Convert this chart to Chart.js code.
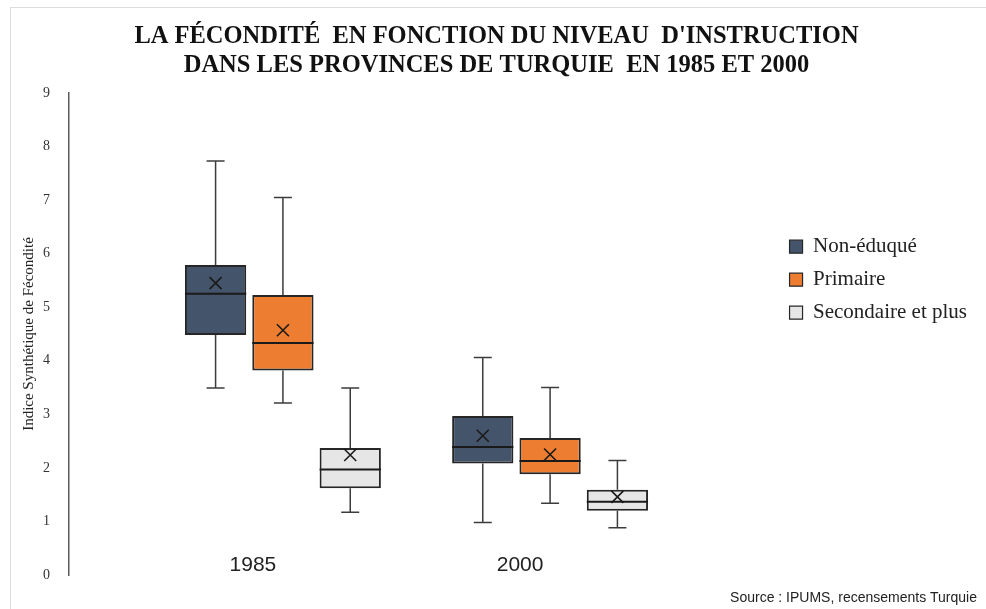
<!DOCTYPE html>
<html>
<head>
<meta charset="utf-8">
<script src="https://cdn.jsdelivr.net/npm/chart.js@4"></script>
<style>
    body { margin: 0; background: #fff; }
    #wrap { position: relative; width: 986px; height: 609px; }
    #frame { position: absolute; left: 10px; top: 7px; right: -2px; bottom: -2px; border-left: 1px solid #dcdcdc; border-top: 1px solid #dcdcdc; }
</style>
</head>
<body>
<div id="wrap">
    <div id="frame"></div>
    <canvas id="fertilityChart" width="986" height="609"></canvas>
</div>
<script>
// Categories and series
const years = [1985, 2000];
const seriesNames = ['Non-éduqué', 'Primaire', 'Secondaire et plus'];
const yTicks = [0, 1, 2, 3, 4, 5, 6, 7, 8, 9];

// Box plot values (one entry per year)
const nonEduqueMin = [3.49, 0.98];
const nonEduqueQ1 = [4.48, 2.08];
const nonEduqueMedian = [5.25, 2.39];
const nonEduqueQ3 = [5.79, 2.97];
const nonEduqueMax = [7.73, 4.06];
const nonEduqueMean = [5.45, 2.60];

const primaireMin = [3.21, 1.34];
const primaireQ1 = [3.82, 1.88];
const primaireMedian = [4.33, 2.13];
const primaireQ3 = [5.23, 2.56];
const primaireMax = [7.05, 3.50];
const primaireMean = [4.57, 2.25];

const secondaireMin = [1.17, 0.88];
const secondaireQ1 = [1.62, 1.20];
const secondaireMedian = [1.97, 1.37];
const secondaireQ3 = [2.37, 1.59];
const secondaireMax = [3.49, 2.14];
const secondaireMean = [2.24, 1.46];

const serifFont = "'Liberation Serif', 'Times New Roman', serif";
const sansFont = "'Liberation Sans', Arial, sans-serif";

// Floating bar for the box (Q1 -> Q3), the rest is drawn by the plugin below
const boxDataset = (label, q1, q3, min, median, max, mean, color) => ({
    label: label,
    data: years.map((yr, i) => ({ x: yr, y: [q1[i], q3[i]] })),
    stats: { min: min, median: median, max: max, mean: mean },
    backgroundColor: color,
    borderColor: '#262626',
    borderWidth: 2,
    borderSkipped: false,
    categoryPercentage: 0.756,
    barPercentage: 0.91
});

// Whiskers, medians, means and the year labels under each group
const boxPlotPlugin = {
    id: 'boxPlot',
    beforeDatasetsDraw(chart) {
        const ctx = chart.ctx;
        const y = chart.scales.y;
        ctx.save();
        ctx.strokeStyle = '#3c3c3c';
        ctx.lineWidth = 1.5;
        chart.data.datasets.forEach((ds, d) => {
            chart.getDatasetMeta(d).data.forEach((bar, i) => {
                const pairs = [[ds.stats.max[i], ds.data[i].y[1]], [ds.stats.min[i], ds.data[i].y[0]]];
                pairs.forEach(([end, edge]) => {
                    const yEnd = y.getPixelForValue(end);
                    ctx.beginPath();
                    ctx.moveTo(bar.x, yEnd);
                    ctx.lineTo(bar.x, y.getPixelForValue(edge));
                    ctx.moveTo(bar.x - 9, yEnd);
                    ctx.lineTo(bar.x + 9, yEnd);
                    ctx.stroke();
                });
            });
        });
        ctx.restore();
    },
    afterDatasetsDraw(chart) {
        const ctx = chart.ctx;
        const x = chart.scales.x;
        const y = chart.scales.y;
        ctx.save();
        chart.data.datasets.forEach((ds, d) => {
            chart.getDatasetMeta(d).data.forEach((bar, i) => {
                const half = bar.width / 2;
                const yMed = y.getPixelForValue(ds.stats.median[i]);
                ctx.strokeStyle = '#1a1a1a';
                ctx.lineWidth = 2;
                ctx.beginPath();
                ctx.moveTo(bar.x - half, yMed);
                ctx.lineTo(bar.x + half, yMed);
                ctx.stroke();

                const yMean = y.getPixelForValue(ds.stats.mean[i]);
                const s = 6;
                ctx.lineWidth = 1.6;
                ctx.beginPath();
                ctx.moveTo(bar.x - s, yMean - s);
                ctx.lineTo(bar.x + s, yMean + s);
                ctx.moveTo(bar.x + s, yMean - s);
                ctx.lineTo(bar.x - s, yMean + s);
                ctx.stroke();
            });
        });

        // year labels sit just above the baseline, a little left of the group centre
        ctx.fillStyle = '#222';
        ctx.font = '21px ' + sansFont;
        ctx.textAlign = 'center';
        ctx.textBaseline = 'middle';
        years.forEach(yr => {
            ctx.fillText(String(yr), x.getPixelForValue(yr) - 30, chart.chartArea.bottom - 10);
        });
        ctx.restore();
    }
};

const createFertilityChart = () => {
    const ctx = document.getElementById('fertilityChart')?.getContext('2d');
    if (!ctx) return;
    new Chart(ctx, {
        type: 'bar',
        data: {
            datasets: [
                boxDataset(seriesNames[0], nonEduqueQ1, nonEduqueQ3, nonEduqueMin, nonEduqueMedian, nonEduqueMax, nonEduqueMean, '#44546a'),
                boxDataset(seriesNames[1], primaireQ1, primaireQ3, primaireMin, primaireMedian, primaireMax, primaireMean, '#ed7d31'),
                boxDataset(seriesNames[2], secondaireQ1, secondaireQ3, secondaireMin, secondaireMedian, secondaireMax, secondaireMean, '#e7e6e6')
            ]
        },
        options: {
            responsive: false,
            animation: false,
            layout: { padding: { left: 16, right: 9, top: 0, bottom: 0 } },
            plugins: {
                title: {
                    display: true,
                    text: ["LA FÉCONDITÉ  EN FONCTION DU NIVEAU  D'INSTRUCTION", 'DANS LES PROVINCES DE TURQUIE  EN 1985 ET 2000'],
                    color: '#111',
                    font: { family: serifFont, size: 24.5, weight: 'bold', lineHeight: 1.18 },
                    padding: { top: 22.5, bottom: 12.7 }
                },
                subtitle: {
                    display: true,
                    position: 'bottom',
                    align: 'end',
                    text: 'Source : IPUMS, recensements Turquie',
                    color: '#222',
                    font: { family: sansFont, size: 14 },
                    padding: { top: 14.6, bottom: 2.6 }
                },
                legend: {
                    position: 'right',
                    align: 'start',
                    title: { display: true, text: '', font: { size: 1 }, padding: { top: 223, bottom: 0 } },
                    labels: {
                        boxWidth: 13,
                        boxHeight: 13,
                        padding: 12,
                        color: '#222',
                        font: { family: serifFont, size: 21 },
                        generateLabels: (chart) => Chart.defaults.plugins.legend.labels.generateLabels(chart)
                            .map(item => ({ ...item, lineWidth: 1.2 }))
                    }
                },
                tooltip: { enabled: false }
            },
            scales: {
                x: {
                    type: 'linear',
                    offset: false,
                    min: 1972.99,
                    max: 2012.77,
                    afterBuildTicks: (scale) => { scale.ticks = years.map(v => ({ value: v })); },
                    afterFit: (scale) => { scale.paddingLeft = 0; scale.paddingRight = 0; },
                    grid: { display: false, drawTicks: false },
                    border: { display: false },
                    ticks: { display: false }
                },
                y: {
                    min: 0,
                    max: 9,
                    afterBuildTicks: (scale) => { scale.ticks = yTicks.map(v => ({ value: v })); },
                    afterFit: (scale) => { scale.width = 53; },
                    grid: { display: false, drawTicks: false },
                    border: { display: true, color: '#5a5a5a', width: 1.5 },
                    ticks: {
                        padding: 19,
                        color: '#333',
                        font: { family: serifFont, size: 14 }
                    },
                    title: {
                        display: true,
                        text: 'Indice Synthétique de Fécondité',
                        color: '#222',
                        font: { family: serifFont, size: 15 }
                    }
                }
            }
        },
        plugins: [boxPlotPlugin]
    });
};

document.addEventListener('DOMContentLoaded', function() {
    createFertilityChart();
});
</script>
</body>
</html>
